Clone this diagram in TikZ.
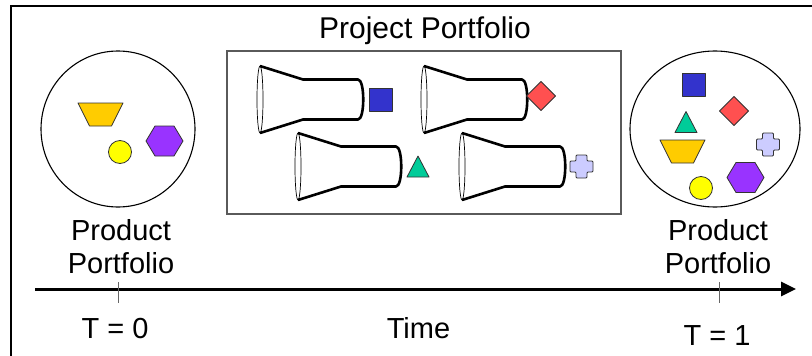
\documentclass[tikz,border=0pt]{standalone}
\usepackage{fontspec}
\setmainfont{Liberation Sans}
\definecolor{trapgold}{RGB}{255,204,0}
\definecolor{dotyellow}{RGB}{255,255,0}
\definecolor{hexpurple}{RGB}{153,51,255}
\definecolor{sqblue}{RGB}{51,51,204}
\definecolor{diared}{RGB}{255,80,80}
\definecolor{trigreen}{RGB}{0,204,153}
\definecolor{pluslilac}{RGB}{204,204,255}
\definecolor{boxgray}{RGB}{90,90,90}
\usetikzlibrary{arrows.meta, positioning, shapes.geometric}

\begin{document}
\begin{tikzpicture}[x=1pt, y=-1pt,
    lbl/.style={font=\fontsize{29}{33}\selectfont, inner sep=0pt, anchor=base, align=center},
    item/.style={draw=black!80, line width=0.8pt, line join=round},
    pool/.style={draw=black, line width=1.1pt},
    axis/.style={-{Triangle[length=15pt, width=14pt]}, line width=3pt},
    tick/.style={draw=black!60, line width=0.8pt},
    pics/funnel/.style={code={
      \draw[line width=2.6pt, line join=round]
        (0,-33.5) -- (43,-20) -- (98,-20) .. controls (105,-20) and (105,20) .. (98,20)
        -- (43,20) -- (0,33.5);
      \draw[line width=0.7pt] (0,0) ellipse [x radius=3, y radius=33.5];
    }},
    pics/sq/.style={code={\draw[item, fill=sqblue] (-11.5,-11.5) rectangle (11.5,11.5);}},
    pics/dia/.style={code={\draw[item, fill=diared] (0,-14.5) -- (14.5,0) -- (0,14.5) -- (-14.5,0) -- cycle;}},
    pics/tri/.style={code={\draw[item, fill=trigreen] (-11,10.5) -- (0,-10.5) -- (11,10.5) -- cycle;}},
    pics/trap/.style={code={\draw[item, fill=trapgold] (-22.5,-11.5) -- (22.5,-11.5) -- (11,11.5) -- (-11,11.5) -- cycle;}},
    pics/hex/.style={code={\draw[item, fill=hexpurple] (-18.5,0) -- (-9.5,-15) -- (9.5,-15) -- (18.5,0) -- (9.5,15) -- (-9.5,15) -- cycle;}},
    pics/dot/.style={code={\draw[item, fill=dotyellow] (0,0) circle [radius=11.5];}},
    pics/plus/.style={code={\draw[item, fill=pluslilac, rounded corners=1pt]
        (-5.5,-11.5) -- (5.5,-11.5) -- (5.5,-5.5) -- (11.5,-5.5) -- (11.5,5.5) -- (5.5,5.5)
        -- (5.5,11.5) -- (-5.5,11.5) -- (-5.5,5.5) -- (-11.5,5.5) -- (-11.5,-5.5) -- (-5.5,-5.5) -- cycle;}},
  ]
    \useasboundingbox (0,0) rectangle (812,356);
    \draw[line width=1.2pt] (11,356) -- (11,6) -- (812,6);

    % product portfolio before
    \node[pool, ellipse, minimum width=154, minimum height=156, inner sep=0pt] (prodStart) at (118,129) {};
    \pic at (100.5,114.5) {trap};
    \pic at (120,152) {dot};
    \pic at (164.5,141) {hex};
    \node[lbl] (prodStartLbl) at (121,273) {Product\\Portfolio};

    % projects in progress
    \node[draw=boxgray, line width=1.2pt, minimum width=394, minimum height=163, inner sep=0pt] (project) at (424,132.5) {};
    \node[lbl, font=\fontsize{30}{33}\selectfont] (projectLbl) at (425,38) {Project Portfolio};
    \pic at (260,99.5) {funnel};
    \pic at (424,99.5) {funnel};
    \pic at (298,166.5) {funnel};
    \pic at (462,166.5) {funnel};
    \pic at (380.5,99.5) {sq};
    \pic at (541,96) {dia};
    \pic at (418,166.5) {tri};
    \pic at (581.5,166.5) {plus};

    % product portfolio after
    \node[pool, ellipse, minimum width=170, minimum height=156, inner sep=0pt] (prodEnd) at (715,129) {};
    \pic at (693.5,84.5) {sq};
    \pic at (734,111) {dia};
    \pic at (686,122) {tri};
    \pic at (682.5,151.5) {trap};
    \pic at (768,144.5) {plus};
    \pic at (745.5,177.5) {hex};
    \pic at (701,188) {dot};
    \node[lbl] (prodEndLbl) at (718,273) {Product\\Portfolio};

    % time axis
    \coordinate (tStart) at (35,289);
    \coordinate (tEnd) at (796,289);
    \draw[axis] (tStart) -- (tEnd);
    \coordinate (tickA) at (118,282);
    \coordinate (tickAend) at (118,303);
    \coordinate (tickB) at (719,282);
    \coordinate (tickBend) at (719,303);
    \draw[tick] (tickA) -- (tickAend);
    \draw[tick] (tickB) -- (tickBend);
    \node[lbl] (tZero) at (115,338) {T = 0};
    \node[lbl] (tLbl) at (418.5,338) {Time};
    \node[lbl] (tOne) at (717,345) {T = 1};
  \end{tikzpicture}
\end{document}
